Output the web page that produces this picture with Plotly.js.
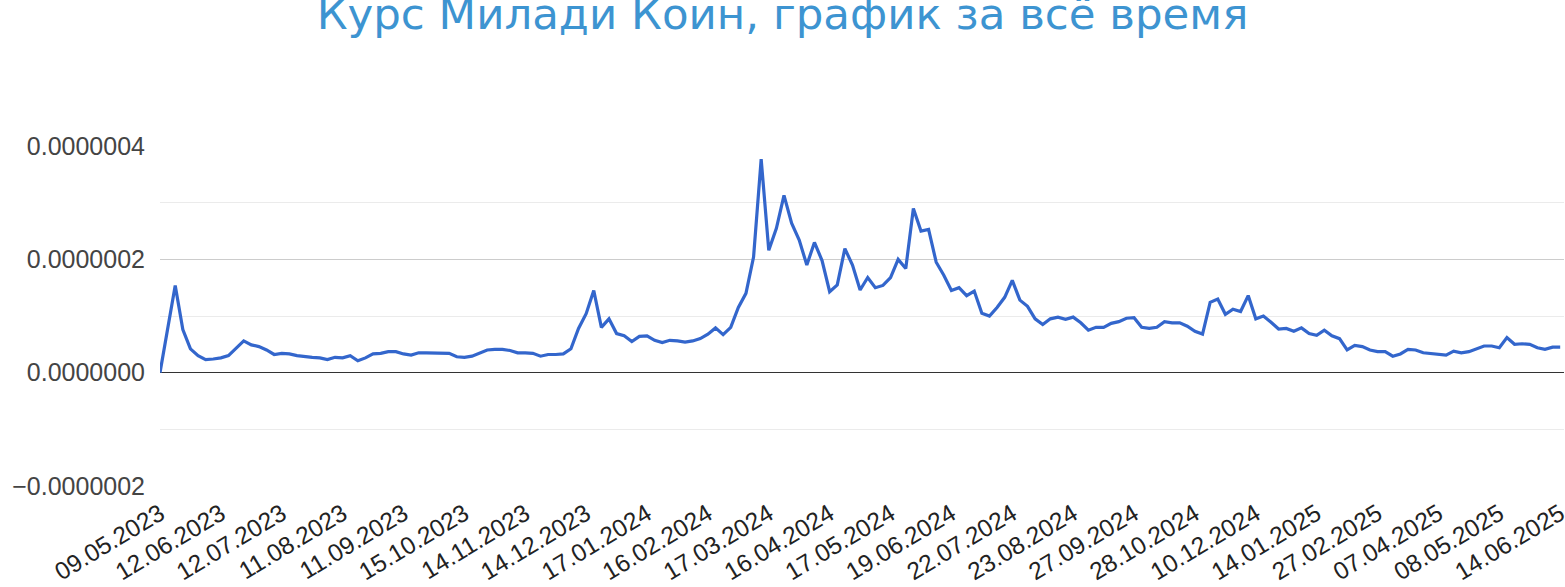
<!DOCTYPE html>
<html>
<head>
<meta charset="utf-8">
<script src="https://cdn.plot.ly/plotly-3.0.1.min.js"></script>
<style>
  html, body { margin: 0; padding: 0; background: #fff; }
  #coin-history-chart { width: 1565px; height: 587px; }
</style>
</head>
<body>
<div id="coin-history-chart"></div>
<script>
// Labels shown under the x axis (one every 8 points)
const dateLabels = [
    '09.05.2023', '12.06.2023', '12.07.2023', '11.08.2023', '11.09.2023', '15.10.2023',
    '14.11.2023', '14.12.2023', '17.01.2024', '16.02.2024', '17.03.2024', '16.04.2024',
    '17.05.2024', '19.06.2024', '22.07.2024', '23.08.2024', '27.09.2024', '28.10.2024',
    '10.12.2024', '14.01.2025', '27.02.2025', '07.04.2025', '08.05.2025', '14.06.2025'
];
const pointsPerLabel = 8;

// Price
const prices = [
    0.00e-7, 0.80e-7, 1.54e-7, 0.76e-7, 0.42e-7, 0.30e-7, 0.23e-7, 0.24e-7, 0.26e-7,
    0.30e-7, 0.44e-7, 0.56e-7, 0.49e-7, 0.46e-7, 0.40e-7, 0.32e-7, 0.34e-7,
    0.33e-7, 0.30e-7, 0.28e-7, 0.27e-7, 0.26e-7, 0.23e-7, 0.27e-7, 0.26e-7,
    0.30e-7, 0.21e-7, 0.26e-7, 0.33e-7, 0.34e-7, 0.37e-7, 0.37e-7, 0.33e-7,
    0.31e-7, 0.35e-7, 0.35e-7, 0.35e-7, 0.35e-7, 0.34e-7, 0.28e-7, 0.27e-7,
    0.29e-7, 0.34e-7, 0.40e-7, 0.41e-7, 0.41e-7, 0.39e-7, 0.35e-7, 0.35e-7,
    0.34e-7, 0.29e-7, 0.32e-7, 0.32e-7, 0.33e-7, 0.42e-7, 0.78e-7, 1.04e-7,
    1.45e-7, 0.80e-7, 0.95e-7, 0.69e-7, 0.65e-7, 0.55e-7, 0.64e-7, 0.65e-7,
    0.57e-7, 0.53e-7, 0.57e-7, 0.56e-7, 0.54e-7, 0.56e-7, 0.60e-7, 0.68e-7,
    0.79e-7, 0.67e-7, 0.80e-7, 1.15e-7, 1.40e-7, 2.04e-7, 3.77e-7, 2.16e-7,
    2.55e-7, 3.13e-7, 2.64e-7, 2.34e-7, 1.90e-7, 2.30e-7, 1.98e-7, 1.43e-7,
    1.55e-7, 2.19e-7, 1.90e-7, 1.46e-7, 1.68e-7, 1.50e-7, 1.54e-7, 1.68e-7,
    2.00e-7, 1.84e-7, 2.90e-7, 2.50e-7, 2.53e-7, 1.95e-7, 1.72e-7, 1.45e-7,
    1.50e-7, 1.36e-7, 1.44e-7, 1.05e-7, 1.00e-7, 1.15e-7, 1.33e-7, 1.63e-7,
    1.28e-7, 1.17e-7, 0.95e-7, 0.85e-7, 0.95e-7, 0.98e-7, 0.94e-7, 0.98e-7,
    0.88e-7, 0.75e-7, 0.80e-7, 0.80e-7, 0.87e-7, 0.90e-7, 0.96e-7, 0.97e-7,
    0.80e-7, 0.78e-7, 0.80e-7, 0.90e-7, 0.88e-7, 0.88e-7, 0.82e-7, 0.73e-7,
    0.68e-7, 1.24e-7, 1.30e-7, 1.03e-7, 1.12e-7, 1.08e-7, 1.36e-7, 0.95e-7,
    1.00e-7, 0.89e-7, 0.77e-7, 0.78e-7, 0.73e-7, 0.79e-7, 0.69e-7, 0.66e-7,
    0.75e-7, 0.65e-7, 0.60e-7, 0.40e-7, 0.48e-7, 0.46e-7, 0.40e-7, 0.37e-7,
    0.37e-7, 0.29e-7, 0.33e-7, 0.41e-7, 0.40e-7, 0.35e-7, 0.34e-7, 0.32e-7,
    0.31e-7, 0.38e-7, 0.35e-7, 0.37e-7, 0.42e-7, 0.47e-7, 0.47e-7, 0.44e-7,
    0.62e-7, 0.50e-7, 0.51e-7, 0.50e-7, 0.44e-7, 0.41e-7, 0.45e-7, 0.45e-7
];

let xData = [];
for (let i in prices) {
    xData.push(Number(i));
}
let tickPositions = [];
for (let i in dateLabels) {
    tickPositions.push(i * pointsPerLabel);
}

let price = {
    x: xData,
    y: prices,
    type: 'scatter',
    mode: 'lines',
    line: {
        color: '#3366cc',
        width: 3.2
    },
    hoverinfo: 'skip'
}

// Layout of the chart
let layout = {
    showlegend: false,
    paper_bgcolor: '#fff',
    plot_bgcolor: '#fff',
    font: {
        family: 'Liberation Sans, Arial, sans-serif',
        color: '#222'
    },
    title: {
        text: 'Курс Милади Коин, график за всё время',
        font: {
            family: 'DejaVu Sans, sans-serif',
            size: 43.5,
            color: '#3d94d1'
        },
        xref: 'container',
        x: 0.5,
        yref: 'container',
        y: 0.977,
        yanchor: 'middle'
    },
    xaxis: {
        range: [0, xData.length - 1 + 0.5],
        tickmode: 'array',
        tickvals: tickPositions,
        ticktext: dateLabels,
        tickangle: -31,
        tickfont: { size: 24.5, color: '#222' },
        ticklabelstandoff: 8,
        ticklabeloverflow: 'allow',
        showgrid: false,
        zeroline: false,
        showline: false,
        ticks: ''
    },
    yaxis: {
        range: [-2.003e-7, 4.003e-7],
        tick0: 0,
        dtick: 2e-7,
        tickformat: '.7f',
        tickfont: { size: 25, color: '#444' },
        ticklabelstandoff: 14,
        gridcolor: '#cccccc',
        gridwidth: 1,
        zeroline: true,
        zerolinecolor: '#333333',
        zerolinewidth: 1.5,
        showline: false,
        minor: {
            dtick: 1e-7,
            showgrid: true,
            gridcolor: '#ebebeb',
            gridwidth: 1
        }
    },
    margin: {
        l: 160,
        r: 1,
        t: 146,
        b: 101
    }
}

// General chart configuration
let config = {
    displayModeBar: false,
    staticPlot: true
}

let htmlElement = document.getElementById('coin-history-chart');
htmlElement.innerHTML = '';
Plotly.newPlot(htmlElement, [price], layout, config);
</script>
</body>
</html>
